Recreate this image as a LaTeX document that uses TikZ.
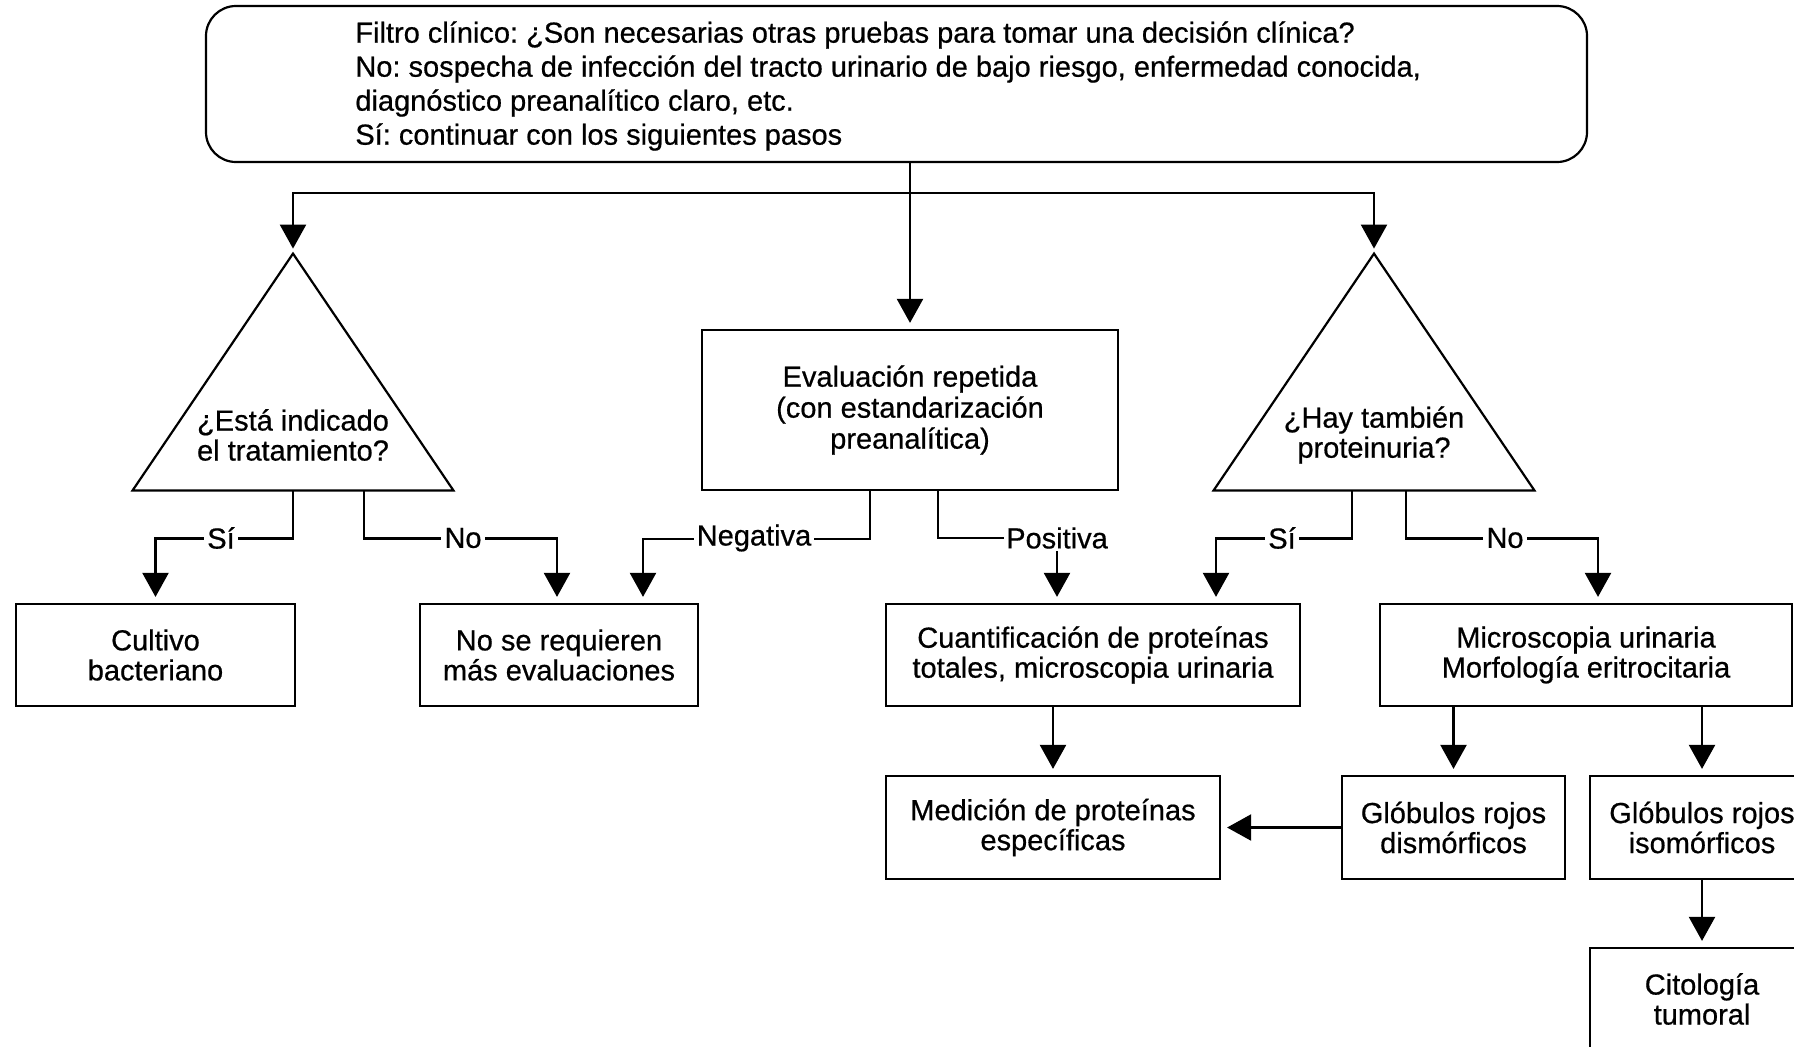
\documentclass[tikz,border=0pt]{standalone}
\usepackage{fontspec}
\setmainfont{Liberation Sans}[FakeBold=0.6]
\usetikzlibrary{arrows.meta,calc}
\tikzset{
  ln/.style={line width=1.1pt},
  boxn/.style={draw, line width=1.1pt, align=center, inner sep=0pt,
    font=\fontsize{14.5}{15}\selectfont},
  txt/.style={align=center, inner sep=0pt, font=\fontsize{14.5}{15}\selectfont},
  arr/.style={line width=1.1pt, -{Triangle[length=12pt,width=13pt]}, shorten >=3pt},
  lbl/.style={fill=white, inner sep=1.5pt, font=\fontsize{14.5}{15}\selectfont},
  trireg/.style={inner sep=0pt, minimum width=160pt, minimum height=118pt}
}
\begin{document}
\frenchspacing
\begin{tikzpicture}[x=0.5pt,y=-0.5pt]
\useasboundingbox (0,0) rectangle (1794,1046);
\clip (0,0) rectangle (1794,1046);

% top box
\node[draw, line width=1.1pt, rounded corners=15pt, minimum width=690.5pt, minimum height=78pt, inner sep=0pt] (top) at (896.5,84) {};
\node[anchor=west, align=left, inner sep=0pt, font=\fontsize{14.5}{17}\selectfont] (toptxt) at (355,86)
 {Filtro clínico: ¿Son necesarias otras pruebas para tomar una decisión clínica?\\
  No: sospecha de infección del tracto urinario de bajo riesgo, enfermedad conocida,\\
  diagnóstico preanalítico claro, etc.\\
  Sí: continuar con los siguientes pasos};

% triangles
\node[trireg] (tri1) at (293,372) {};
\draw[ln, line join=miter] (tri1.south west) -- (tri1.north) -- (tri1.south east) -- cycle;
\node[txt] (tri1txt) at (293,435) {¿Está indicado\\el tratamiento?};
\node[trireg] (tri2) at (1374,372) {};
\draw[ln, line join=miter] (tri2.south west) -- (tri2.north) -- (tri2.south east) -- cycle;
\node[txt] (tri2txt) at (1374,435) {¿Hay también\\proteinuria?};

% boxes
\node[boxn, minimum width=208pt, minimum height=80pt] (eval) at (910,410)
 {Evaluación repetida\\[0.5pt](con estandarización\\[0.5pt]preanalítica)};
\node[boxn, minimum width=139.5pt, minimum height=51pt] (cult) at (155.5,655) {Cultivo\\bacteriano};
\node[boxn, minimum width=139pt, minimum height=51pt] (nose) at (559,655) {No se requieren\\más evaluaciones};
\node[boxn, minimum width=207pt, minimum height=51pt] (cuan) at (1093,655) {Cuantificación de proteínas\\totales, microscopia urinaria};
\node[boxn, minimum width=206pt, minimum height=51pt] (micro) at (1586,655) {Microscopia urinaria\\Morfología eritrocitaria};
\node[boxn, minimum width=167pt, minimum height=51.5pt] (med) at (1053,827.5) {Medición de proteínas\\específicas};
\node[boxn, minimum width=111.5pt, minimum height=51.5pt] (dis) at (1453.5,827.5) {Glóbulos rojos\\dismórficos};
\node[boxn, minimum width=112pt, minimum height=51.5pt] (iso) at (1702,827.5) {Glóbulos rojos\\isomórficos};
\node[boxn, minimum width=112pt, minimum height=51pt] (cito) at (1702,999) {Citología\\tumoral};

% top connectors
\coordinate (split) at ($(top.south -| eval.north)+(0,30)$);
\draw[ln] (top.south -| eval.north) -- (split);
\draw[arr] (split) -- (eval.north);
\draw[arr, shorten >=2.5pt] (split) -| (tri1.north);
\draw[arr, shorten >=2.5pt] (split) -| (tri2.north);

% left triangle branches
\draw[arr] (tri1.south) -- ++(0,48) -| (cult.north);
\draw[arr] ($(tri1.south)+(71,0)$) -- ++(0,48) -| ($(nose.north)+(-2,0)$);
\node[lbl] (l1si) at (221,538) {Sí};
\node[lbl] (l1no) at (463,538) {No};

% evaluation branches
\draw[arr] ($(eval.south)+(-40,0)$) -- ++(0,48) -| ($(nose.north)+(84,0)$);
\node[lbl] (neg) at (754,538) {Negativa};
\node[lbl, inner sep=1pt] (pos) at (1057,538) {Positiva};
\draw[ln] ($(eval.south)+(28,0)$) |- (pos.west);
\draw[arr] (pos.south) -- (pos.south |- cuan.north);

% right triangle branches
\draw[arr] ($(tri2.south)+(-22,0)$) -- ++(0,48) -| ($(cuan.north)+(123,0)$);
\draw[arr] ($(tri2.south)+(32,0)$) -- ++(0,48) -| ($(micro.north)+(12,0)$);
\node[lbl] (l2si) at (1282,538) {Sí};
\node[lbl] (l2no) at (1505,538) {No};

% lower connectors
\draw[arr] (cuan.south -| med.north) -- (med.north);
\draw[arr] (micro.south -| dis.north) -- (dis.north);
\draw[arr] (micro.south -| iso.north) -- (iso.north);
\draw[arr] (dis.west) -- (med.east);
\draw[arr] (iso.south) -- (cito.north);
\end{tikzpicture}
\end{document}
